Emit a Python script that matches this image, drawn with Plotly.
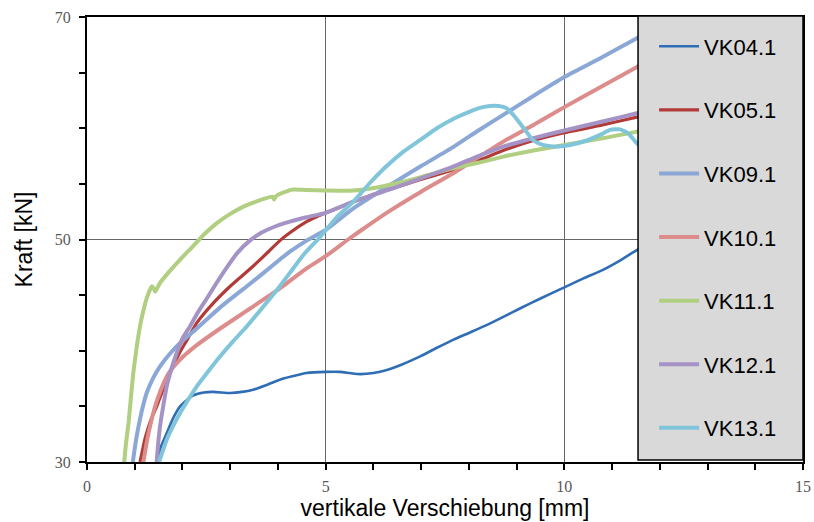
import plotly.graph_objects as go

# ---- data ----
names = ["VK04.1", "VK05.1", "VK09.1", "VK10.1", "VK11.1", "VK12.1", "VK13.1"]
colors = ["#2f6db5", "#b23b38", "#8aa7d6", "#dc8c8b", "#b0cf80", "#a493c4", "#80c5d9"]
widths = [2.6, 3.2, 4, 4, 4, 4, 4]

vk04_x = [1.45, 1.55, 1.67, 1.8, 1.95, 2.1, 2.23, 2.45, 2.65, 3.0, 3.25, 3.48, 3.75, 4.04, 4.3, 4.6, 5.0, 5.3, 5.5,
          5.72, 6.0, 6.3, 6.56, 6.98, 7.3, 7.68, 8.0, 8.37, 8.7, 9.07, 9.5, 10.0, 10.4, 10.82, 11.2, 11.52, 12.5,
          13.5, 14.5, 15.0]
vk04_y = [30.0, 31.4, 32.6, 33.9, 35.0, 35.6, 36.0, 36.25, 36.3, 36.2, 36.3, 36.5, 36.9, 37.4, 37.7, 38.0, 38.1,
          38.1, 38.0, 37.9, 38.0, 38.3, 38.7, 39.5, 40.2, 41.0, 41.6, 42.3, 43.0, 43.8, 44.7, 45.7, 46.5, 47.3,
          48.2, 49.05, 51.0, 53.0, 55.6, 56.7]

vk05_x = [1.11, 1.16, 1.21, 1.27, 1.35, 1.46, 1.6, 1.74, 1.95, 2.1, 2.3, 2.65, 3.0, 3.48, 3.8, 4.04, 4.25, 4.6,
          5.0, 5.3, 5.65, 6.1, 6.63, 7.15, 7.67, 8.2, 8.72, 9.35, 10.0, 10.8, 11.52, 12.5, 13.5, 15.0]
vk05_y = [30.0, 31.0, 32.0, 32.9, 33.9, 35.0, 36.6, 38.0, 39.9, 41.0, 42.5, 44.3, 45.8, 47.6, 48.9, 49.9, 50.6,
          51.6, 52.4, 52.9, 53.5, 54.2, 54.9, 55.6, 56.25, 57.1, 58.0, 58.9, 59.6, 60.3, 61.0, 62.1, 63.2, 64.7]

vk09_x = [0.96, 1.0, 1.04, 1.08, 1.16, 1.25, 1.38, 1.53, 1.75, 1.95, 2.3, 2.79, 3.35, 3.7, 4.04, 4.25, 4.6, 5.0,
          5.58, 6.35, 7.0, 7.67, 8.2, 8.72, 9.35, 10.0, 10.8, 11.52, 12.5, 13.5, 15.0]
vk09_y = [30.0, 31.2, 32.3, 33.2, 34.8, 36.2, 37.5, 38.6, 39.8, 40.7, 42.0, 43.9, 45.8, 47.0, 48.2, 48.9, 49.9,
          50.85, 52.8, 54.9, 56.6, 58.3, 59.8, 61.2, 62.9, 64.6, 66.4, 68.1, 70.4, 72.6, 76.0]

vk10_x = [1.18, 1.22, 1.27, 1.32, 1.42, 1.53, 1.7, 1.95, 2.3, 2.79, 3.35, 4.04, 4.6, 5.0, 5.47, 5.9, 6.35, 7.0,
          7.67, 8.2, 8.72, 9.35, 10.0, 10.8, 11.52, 12.5, 13.5, 15.0]
vk10_y = [30.0, 31.0, 32.2, 33.2, 34.9, 36.3, 37.9, 39.2, 40.5, 42.0, 43.6, 45.6, 47.4, 48.5, 50.0, 51.3, 52.6,
          54.3, 55.95, 57.4, 58.8, 60.3, 61.9, 63.8, 65.5, 67.9, 70.3, 74.0]

vk11_x = [0.78, 0.82, 0.87, 0.92, 0.97, 1.04, 1.11, 1.18, 1.25, 1.32, 1.36, 1.40, 1.43, 1.53, 1.7, 1.95, 2.2,
          2.44, 2.7, 3.0, 3.3, 3.6, 3.88, 3.92, 3.96, 4.1, 4.32, 4.6, 5.0, 5.58, 6.1, 6.63, 7.15, 7.67, 8.2, 8.72,
          9.35, 10.0, 10.8, 11.52, 12.5, 13.5, 15.0]
vk11_y = [30.0, 31.8, 33.5, 35.8, 38.0, 40.3, 42.2, 43.6, 44.7, 45.5, 45.8, 45.6, 45.3, 46.1, 47.0, 48.2, 49.3,
          50.4, 51.4, 52.3, 53.0, 53.5, 53.85, 53.6, 53.9, 54.2, 54.5, 54.45, 54.4, 54.4, 54.7, 55.2, 55.8, 56.4,
          56.9, 57.45, 58.0, 58.5, 59.1, 59.7, 60.8, 61.9, 63.8]

vk12_x = [1.46, 1.49, 1.53, 1.6, 1.67, 1.77, 1.88, 2.0, 2.16, 2.33, 2.51, 2.7, 2.93, 3.15, 3.41, 3.65, 3.9, 4.25,
          4.6, 5.0, 5.58, 6.35, 7.0, 7.67, 8.2, 8.72, 9.35, 10.0, 10.8, 11.52, 12.5, 13.5, 15.0]
vk12_y = [30.0, 31.6, 33.2, 35.1, 36.8, 38.4, 39.8, 41.1, 42.2, 43.5, 44.7, 46.0, 47.5, 48.8, 49.9, 50.6, 51.1,
          51.6, 52.0, 52.4, 53.4, 54.5, 55.5, 56.55, 57.5, 58.35, 59.1, 59.8, 60.6, 61.35, 62.5, 63.5, 65.4]

vk13_x = [1.51, 1.58, 1.67, 1.8, 1.95, 2.12, 2.3, 2.55, 2.79, 3.05, 3.35, 3.7, 4.04, 4.25, 4.55, 4.88, 5.23, 5.58,
          5.93, 6.25, 6.63, 7.0, 7.33, 7.7, 8.02, 8.25, 8.44, 8.62, 8.79, 8.93, 9.07, 9.22, 9.35, 9.55, 9.77,
          10.12, 10.47, 10.75, 10.96, 11.17, 11.35, 11.52, 11.8, 12.5, 13.5, 14.3, 15.0]
vk13_y = [30.0, 30.9, 32.0, 33.2, 34.4, 35.6, 36.8, 38.2, 39.5, 40.8, 42.2, 44.0, 45.8, 47.0, 48.7, 50.2, 52.0,
          53.4, 55.1, 56.5, 57.9, 59.0, 60.0, 60.9, 61.5, 61.85, 62.0, 62.0, 61.8, 61.2, 60.45, 59.6, 58.9, 58.5,
          58.35, 58.5, 58.9, 59.4, 59.85, 59.9, 59.5, 58.65, 57.8, 57.5, 59.0, 60.8, 62.0]

series_x = [vk04_x, vk05_x, vk09_x, vk10_x, vk11_x, vk12_x, vk13_x]
series_y = [vk04_y, vk05_y, vk09_y, vk10_y, vk11_y, vk12_y, vk13_y]

x_title = "vertikale Verschiebung [mm]"
y_title = "Kraft [kN]"

fig = go.Figure()
for n, c, w, xs, ys in zip(names, colors, widths, series_x, series_y):
    fig.add_trace(go.Scatter(x=xs, y=ys, mode="lines", name=n, legendgroup=n,
                             line=dict(color=c, width=w, shape="spline", smoothing=0.5)))

tickfont = dict(family="Liberation Serif", size=16, color="#595959")
titlefont = dict(family="Liberation Sans", size=23, color="black")

common = dict(showgrid=True, gridcolor="#666666", gridwidth=1.2, automargin=False,
              showline=True, linecolor="black", linewidth=2, mirror=True, zeroline=False,
              ticks="outside", ticklen=6, tickwidth=1.5, tickcolor="black", tickfont=tickfont)

fig.update_xaxes(range=[0, 15], tick0=0, dtick=5, ticklabelstandoff=3,
                 minor=dict(dtick=1, ticks="outside", ticklen=6, tickwidth=1.5, tickcolor="black", showgrid=False),
                 title=dict(text=x_title, font=titlefont, standoff=2), **common)
fig.update_yaxes(range=[30, 70], tick0=30, dtick=20, ticklabelstandoff=5,
                 minor=dict(dtick=5, ticks="outside", ticklen=6, tickwidth=1.5, tickcolor="black", showgrid=False),
                 title=dict(text=y_title, font=titlefont, standoff=16), **common)

fig.add_shape(type="rect", xref="paper", yref="paper", x0=0.7696, x1=1.0, y0=0.0045, y1=1.002,
              fillcolor="#d9d9d9", line=dict(color="black", width=1.5), layer="above")

fig.update_layout(
    width=814, height=522,
    margin=dict(l=87, r=11, t=17, b=60),
    plot_bgcolor="white", paper_bgcolor="white",
    showlegend=True,
    legend=dict(x=0.792, y=0.981, xanchor="left", yanchor="top", bgcolor="rgba(0,0,0,0)",
                borderwidth=0, font=dict(family="Liberation Sans", size=22, color="black"),
                tracegroupgap=32, itemwidth=40),
)

fig.write_html("out.html", config={"displayModeBar": False},
               post_script="document.body.style.margin='0';")
